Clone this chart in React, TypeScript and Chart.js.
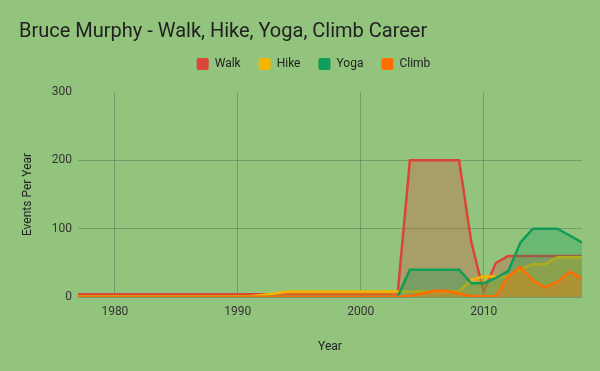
import React, { useEffect, useRef } from "react";
import { Chart, registerables } from "chart.js";

Chart.register(...registerables);

const years = [
  1977, 1978, 1979, 1980, 1981, 1982, 1983, 1984, 1985, 1986,
  1987, 1988, 1989, 1990, 1991, 1992, 1993, 1994, 1995, 1996,
  1997, 1998, 1999, 2000, 2001, 2002, 2003, 2004, 2005, 2006,
  2007, 2008, 2009, 2010, 2011, 2012, 2013, 2014, 2015, 2016,
  2017, 2018,
];

const walk = [
  4, 4, 4, 4, 4, 4, 4, 4, 4, 4,
  4, 4, 4, 4, 4, 4, 4, 4, 4, 4,
  4, 4, 4, 4, 4, 4, 4, 200, 200, 200,
  200, 200, 80, 8, 50, 60, 60, 60, 60, 60,
  60, 60,
];

const hike = [
  1, 1, 1, 1, 1, 1, 1, 1, 1, 1,
  1, 1, 1, 1, 1, 3, 5, 8, 8, 8,
  8, 8, 8, 8, 8, 8, 8, 8, 8, 8,
  8, 8, 25, 30, 30, 30, 40, 48, 48, 58,
  58, 58,
];

const yoga = [
  0, 0, 0, 0, 0, 0, 0, 0, 0, 0,
  0, 0, 0, 0, 0, 0, 0, 0, 0, 0,
  0, 0, 0, 0, 0, 0, 0, 40, 40, 40,
  40, 40, 20, 20, 28, 38, 80, 100, 100, 100,
  90, 80,
];

const climb = [
  0, 0, 0, 0, 0, 0, 0, 0, 0, 0,
  0, 0, 0, 0, 0, 0, 0, 0, 0, 0,
  0, 0, 0, 0, 0, 0, 0, 2, 5, 9,
  9, 5, 1, 1, 1, 30, 44, 24, 14, 22,
  37, 27,
];

const seriesNames = ["Walk", "Hike", "Yoga", "Climb"];
const seriesColors = ["#db4437", "#f4b400", "#0f9d58", "#ff6d00"];
const seriesFills = [
  "rgba(219,68,55,0.3)",
  "rgba(244,180,0,0.3)",
  "rgba(15,157,88,0.3)",
  "rgba(255,109,0,0.3)",
];

const titleText = "Bruce Murphy - Walk, Hike, Yoga, Climb Career";
const xTitle = "Year";
const yTitle = "Events Per Year";

const FONT = "Roboto";

const bgPlugin = {
  id: "bg",
  beforeDraw(chart: any) {
    const { ctx, width, height } = chart;
    ctx.save();
    ctx.fillStyle = "#93c47d";
    ctx.fillRect(0, 0, width, height);
    ctx.restore();
  },
};

const legendTweak = {
  id: "legendTweak",
  beforeLayout(chart: any) {
    const lg = chart.legend;
    if (lg && !lg.__patched) {
      const orig = lg.fit.bind(lg);
      lg.fit = function () {
        orig();
        this.height += 12;
      };
      lg.__patched = true;
    }
  },
  afterLayout(chart: any) {
    const lg = chart.legend;
    if (lg) {
      lg.left += 13;
      lg.right += 13;
    }
  },
};

export default function App() {
  const ref = useRef<HTMLCanvasElement | null>(null);

  useEffect(() => {
    document.body.style.margin = "0";
    const canvas = ref.current;
    if (!canvas) return;
    const all = [walk, hike, yoga, climb];
    const datasets = all.map((vals, i) => ({
      label: seriesNames[i],
      data: years.map((y, j) => ({ x: y, y: vals[j] })),
      borderColor: seriesColors[i],
      backgroundColor: seriesFills[i],
      borderWidth: 2.5,
      pointRadius: 0,
      pointHoverRadius: 0,
      tension: 0,
      fill: "origin",
      order: 4 - i,
    }));
    const chart = new Chart(canvas, {
      type: "line",
      data: { datasets },
      plugins: [bgPlugin, legendTweak],
      options: {
        animation: false,
        responsive: false,
        devicePixelRatio: 1,
        layout: { padding: { left: 19, right: 18, top: 0, bottom: 0 } },
        plugins: {
          title: {
            display: true,
            text: titleText,
            align: "start",
            color: "#212121",
            font: { family: FONT, size: 20, weight: "normal" },
            padding: { top: 20, bottom: -4 },
          },
          legend: {
            display: true,
            position: "top",
            align: "center",
            labels: {
              boxWidth: 12,
              boxHeight: 12,
              padding: 18,
              color: "#222222",
              font: { family: FONT, size: 12 },
              generateLabels(chart: any) {
                return chart.data.datasets.map((ds: any, i: number) => ({
                  text: ds.label,
                  fillStyle: seriesColors[i],
                  strokeStyle: seriesColors[i],
                  lineWidth: 0,
                  datasetIndex: i,
                  fontColor: "#222222",
                  borderRadius: 2,
                }));
              },
            },
          },
          tooltip: { enabled: false },
        },
        scales: {
          x: {
            type: "linear",
            min: 1977,
            max: 2018,
            afterFit(scale: any) {
              scale.height = 74;
            },
            ticks: {
              stepSize: 10,
              includeBounds: false,
              padding: 8,
              color: "#333333",
              font: { family: FONT, size: 12 },
              callback: (v: any) => String(v),
            },
            grid: {
              color: "rgba(60,60,60,0.3)",
              drawTicks: false,
              lineWidth: 1,
            },
            border: { display: false },
            title: {
              display: true,
              text: xTitle,
              color: "#222222",
              font: { family: FONT, size: 12 },
              padding: { top: 0, bottom: 17 },
            },
          },
          y: {
            min: 0,
            max: 300,
            afterFit(scale: any) {
              scale.width = 59;
            },
            ticks: {
              stepSize: 100,
              padding: 6,
              color: "#333333",
              font: { family: FONT, size: 12 },
            },
            grid: {
              color: (c: any) =>
                c.tick && c.tick.value === 300 ? "rgba(0,0,0,0)" : "rgba(60,60,60,0.3)",
              drawTicks: false,
              lineWidth: 1,
            },
            border: { display: false },
            title: {
              display: true,
              text: yTitle,
              color: "#222222",
              font: { family: FONT, size: 12 },
              padding: { top: 2, bottom: 0 },
            },
          },
        },
      },
    } as any);
    return () => chart.destroy();
  }, []);

  return (
    <div style={{ position: "absolute", left: 0, top: 0, width: 600, height: 371 }}>
      <canvas ref={ref} width={600} height={371} />
    </div>
  );
}
